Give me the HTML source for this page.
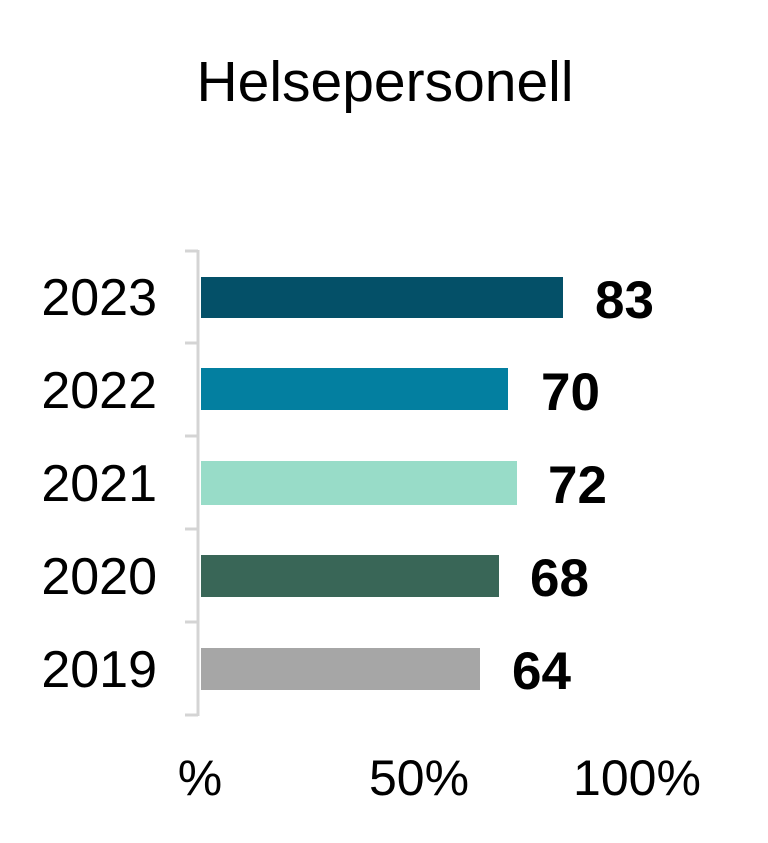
<!DOCTYPE html>
<html><head><meta charset="utf-8"><style>
body{margin:0;background:#fff;}
svg{display:block;font-family:"Liberation Sans",Arial,sans-serif;}
</style></head><body>
<svg width="768" height="843" xmlns="http://www.w3.org/2000/svg">
<rect width="768" height="843" fill="#fff"/>
<text x="385" y="101" font-size="57" text-anchor="middle" fill="#000">Helsepersonell</text>
<line x1="198" y1="250" x2="198" y2="716" stroke="#d4d4d4" stroke-width="3"/>
<g stroke="#d4d4d4" stroke-width="3">
<line x1="185" y1="251" x2="198" y2="251"/>
<line x1="185" y1="343" x2="198" y2="343"/>
<line x1="185" y1="436" x2="198" y2="436"/>
<line x1="185" y1="529" x2="198" y2="529"/>
<line x1="185" y1="622" x2="198" y2="622"/>
<line x1="185" y1="715" x2="198" y2="715"/>
</g>
<rect x="201" y="277" width="362" height="41" fill="#045068"/>
<rect x="201" y="368" width="307" height="42" fill="#037fa0"/>
<rect x="201" y="461" width="316" height="44" fill="#98dcc8"/>
<rect x="201" y="555" width="298" height="42" fill="#396657"/>
<rect x="201" y="648" width="279" height="42" fill="#a6a6a6"/>
<g font-size="52" text-anchor="end" fill="#000">
<text x="157" y="315">2023</text>
<text x="157" y="408">2022</text>
<text x="157" y="501">2021</text>
<text x="157" y="594">2020</text>
<text x="157" y="687">2019</text>
</g>
<g font-size="53" font-weight="bold" fill="#000">
<text x="595" y="318">83</text>
<text x="541" y="410">70</text>
<text x="548" y="503">72</text>
<text x="530" y="596">68</text>
<text x="512" y="689">64</text>
</g>
<g font-size="50" text-anchor="middle" fill="#000">
<text x="200" y="795">%</text>
<text x="419" y="795">50%</text>
<text x="637" y="795">100%</text>
</g>
</svg>
</body></html>
